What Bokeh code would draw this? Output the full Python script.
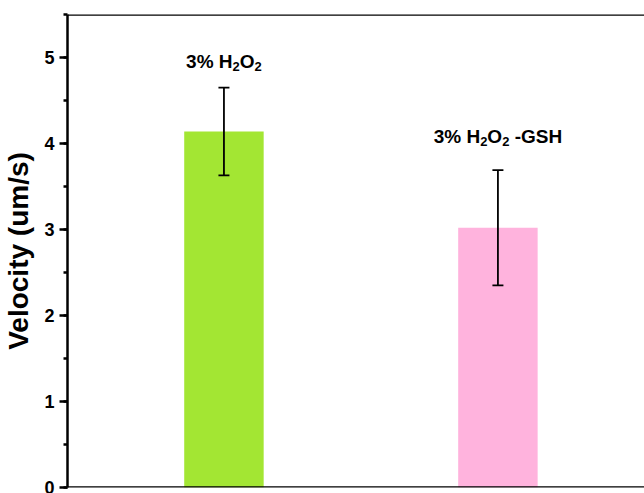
from bokeh.plotting import figure
from bokeh.models import ColumnDataSource, Range1d, Whisker, Span, SingleIntervalTicker, TeeHead
from bokeh.core.properties import value
from bokeh.embed import file_html
from bokeh.resources import INLINE

# data
categories = ["3% H2O2", "3% H2O2 -GSH"]
positions = [1, 2]
velocity = [4.14, 3.02]
errors = [0.51, 0.67]
colors = ["#A3E633", "#FFB3DD"]
# label pieces: (text, is_subscript)
label_parts = [
    [("3%\u00a0H", 0), ("2", 1), ("O", 0), ("2", 1)],
    [("3%\u00a0H", 0), ("2", 1), ("O", 0), ("2", 1), ("\u00a0-GSH", 0)],
]
label_offsets = [-26, -34]

# style
MAIN = 19
SUB = 13
# Arial/Liberation Sans Bold advance widths (per 1000 em)
ADV = {'3': 556, '%': 889, ' ': 278, '\u00a0': 278, 'H': 722, 'O': 778, '-': 333,
       'G': 778, 'S': 667, '2': 556}

upper = [v + e for v, e in zip(velocity, errors)]
lower = [v - e for v, e in zip(velocity, errors)]

src = ColumnDataSource(dict(x=positions, top=velocity, upper=upper, lower=lower, color=colors))

p = figure(width=644, height=493, output_backend="svg", toolbar_location=None,
           x_range=Range1d(0.429, 2.535), y_range=Range1d(0, 5.5),
           min_border_left=67, min_border_right=0, min_border_top=14, min_border_bottom=6)

p.vbar(x="x", top="top", width=0.29, bottom=0, fill_color="color", line_color=None, source=src)

w = Whisker(base="x", upper="upper", lower="lower", source=src, line_color="black", line_width=1.8,
            upper_head=TeeHead(size=11, line_color="black", line_width=1.8),
            lower_head=TeeHead(size=11, line_color="black", line_width=1.8),
            level="overlay")
p.add_layout(w)

# build label pieces
main_d = dict(x=[], y=[], t=[], xo=[], yo=[])
sub_d = dict(x=[], y=[], t=[], xo=[], yo=[])
for xi, yi, parts, yoff in zip(positions, upper, label_parts, label_offsets):
    widths = [sum(ADV[c] for c in t) / 1000 * (SUB if s else MAIN) for t, s in parts]
    cur = -sum(widths) / 2
    for (t, s), wdt in zip(parts, widths):
        d = sub_d if s else main_d
        d["x"].append(xi); d["y"].append(yi); d["t"].append(t)
        d["xo"].append(cur); d["yo"].append(yoff + (5 if s else 0))
        cur += wdt

for d, size in [(main_d, MAIN), (sub_d, SUB)]:
    p.text(x="x", y="y", text="t", x_offset="xo", y_offset="yo", source=ColumnDataSource(d),
           text_align="left", text_baseline="alphabetic",
           text_font=value("Liberation Sans"), text_font_style="bold",
           text_font_size=f"{size}px", text_color="black")

p.xaxis.visible = False
p.xgrid.visible = False
p.ygrid.visible = False
p.outline_line_color = None

for loc in [0, 5.5]:
    p.add_layout(Span(location=loc, dimension="width", line_color="black", line_width=2.5))

ax = p.yaxis[0]
ax.ticker = SingleIntervalTicker(interval=1, num_minor_ticks=2)
ax.axis_line_width = 2.5
ax.axis_line_color = "black"
ax.major_tick_line_width = 2.5
ax.minor_tick_line_width = 2.5
ax.major_tick_out = 8
ax.major_tick_in = 0
ax.minor_tick_out = 4
ax.minor_tick_in = 0
ax.major_label_text_font = "Liberation Sans"
ax.major_label_text_font_style = "bold"
ax.major_label_text_font_size = "18px"
ax.major_label_text_color = "black"
ax.major_label_standoff = 5
ax.axis_label = "Velocity (um/s)"
ax.axis_label_text_font = "Liberation Sans"
ax.axis_label_text_font_style = "bold"
ax.axis_label_text_font_size = "28px"
ax.axis_label_text_color = "black"
ax.axis_label_standoff = 7

open("out.html", "w").write(file_html(p, INLINE))
